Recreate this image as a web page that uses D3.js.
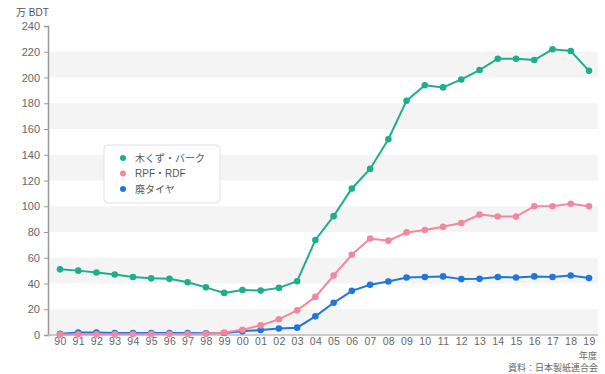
<!DOCTYPE html>
<html><head><meta charset="utf-8">
<script src="https://cdn.jsdelivr.net/npm/d3@7"></script>
<style>
body{margin:0;background:#fff;}
text{font-family:"Liberation Sans","Noto Sans CJK JP",sans-serif;}
</style></head>
<body>
<svg id="chart" width="605" height="374"></svg>
<script>
const years = ["90","91","92","93","94","95","96","97","98","99","00","01","02","03","04","05","06","07","08","09","10","11","12","13","14","15","16","17","18","19"];
const woodBark = [51,50,48.5,47,45,44,43.6,41,37,32.7,35,34.5,36.6,41.8,73.8,92.3,113.8,129,152,182,194,192.3,198.5,205.8,214.6,214.6,213.6,221.9,220.6,205.2];
const rpfRdf = [0.3,0.5,0.5,0.5,0.6,0.7,0.8,0.8,1,2,4.1,7.5,12.2,19.2,29.6,46.2,62.3,75,73.3,79.7,81.6,84,87,93.5,92,92,100,100,102,100];
const tires = [1,2,2,1.5,1.5,1.5,1.5,1.5,1.3,1.6,3,3.9,5,5.7,14.5,25,34.3,39,41.6,44.7,45,45.5,43.4,43.6,45,44.7,45.5,45,46.2,44.2];
const seriesNames = ["木くず・バーク","RPF・RDF","廃タイヤ"];
const seriesColors = ["#1fae8c","#f4879e","#1f77dc"];
const yTicks = [0,20,40,60,80,100,120,140,160,180,200,220,240];

const svg = d3.select("#chart");
const L = 48, R = 598, T = 26, B = 335;
const x = d3.scalePoint().domain(years).range([60, 589]);
const y = d3.scaleLinear().domain([0,240]).range([B, T]);

// bands
const bands = [0,40,80,120,160,200];
svg.append("g").selectAll("rect").data(bands).join("rect")
  .attr("x", L).attr("width", R-L)
  .attr("y", d=>y(d+20)).attr("height", d=>y(d)-y(d+20))
  .attr("fill","#f4f4f4");

// y axis
const yAxis = d3.axisLeft(y).tickValues(yTicks).tickSize(4).tickPadding(4);
const gy = svg.append("g").attr("transform",`translate(${L},0)`).call(yAxis);
gy.select(".domain").attr("stroke","#999").attr("stroke-width",1.5);
gy.selectAll(".tick line").attr("stroke","#999");
gy.selectAll("text").attr("fill","#666").attr("font-size",11);

// x axis
const xAxis = d3.axisBottom(x).tickSize(0).tickPadding(3);
const gx = svg.append("g").attr("transform",`translate(0,${B})`).call(xAxis);
gx.select(".domain").remove();
gx.selectAll("text").attr("fill","#666").attr("font-size",10.5).attr("letter-spacing",0.3);
svg.append("line").attr("x1",L).attr("x2",R).attr("y1",B).attr("y2",B).attr("stroke","#bbb").attr("stroke-width",1.5);

// series
const allData = [woodBark, rpfRdf, tires];
const line = d3.line().x((d,i)=>x(years[i])).y(d=>y(d));
const order = [2,1,0];
order.forEach(k=>{
  const g = svg.append("g");
  g.append("path").datum(allData[k]).attr("d",line).attr("fill","none")
    .attr("stroke",seriesColors[k]).attr("stroke-width",2);
  g.selectAll("circle").data(allData[k]).join("circle")
    .attr("cx",(d,i)=>x(years[i])).attr("cy",d=>y(d)).attr("r",3.3)
    .attr("fill",seriesColors[k]);
});

// unit label
svg.append("text").attr("x",16).attr("y",16).attr("font-size",10).attr("fill","#555").text("万 BDT");

// legend
const lg = svg.append("g");
lg.append("rect").attr("x",104).attr("y",145).attr("width",116).attr("height",58).attr("rx",4)
  .attr("fill","#fff").attr("stroke","#e2e2e2");
seriesNames.forEach((n,i)=>{
  const yy = 158 + i*15.5;
  lg.append("circle").attr("cx",123).attr("cy",yy).attr("r",3).attr("fill",seriesColors[i]);
  lg.append("text").attr("x",135).attr("y",yy+3.5).attr("font-size",10).attr("fill","#555").text(n);
});

// footer
svg.append("text").attr("x",597).attr("y",359).attr("text-anchor","end").attr("font-size",9).attr("fill","#666").text("年度");
svg.append("text").attr("x",598).attr("y",371).attr("text-anchor","end").attr("font-size",9).attr("fill","#666").text("資料：日本製紙連合会");
</script>
</body></html>
